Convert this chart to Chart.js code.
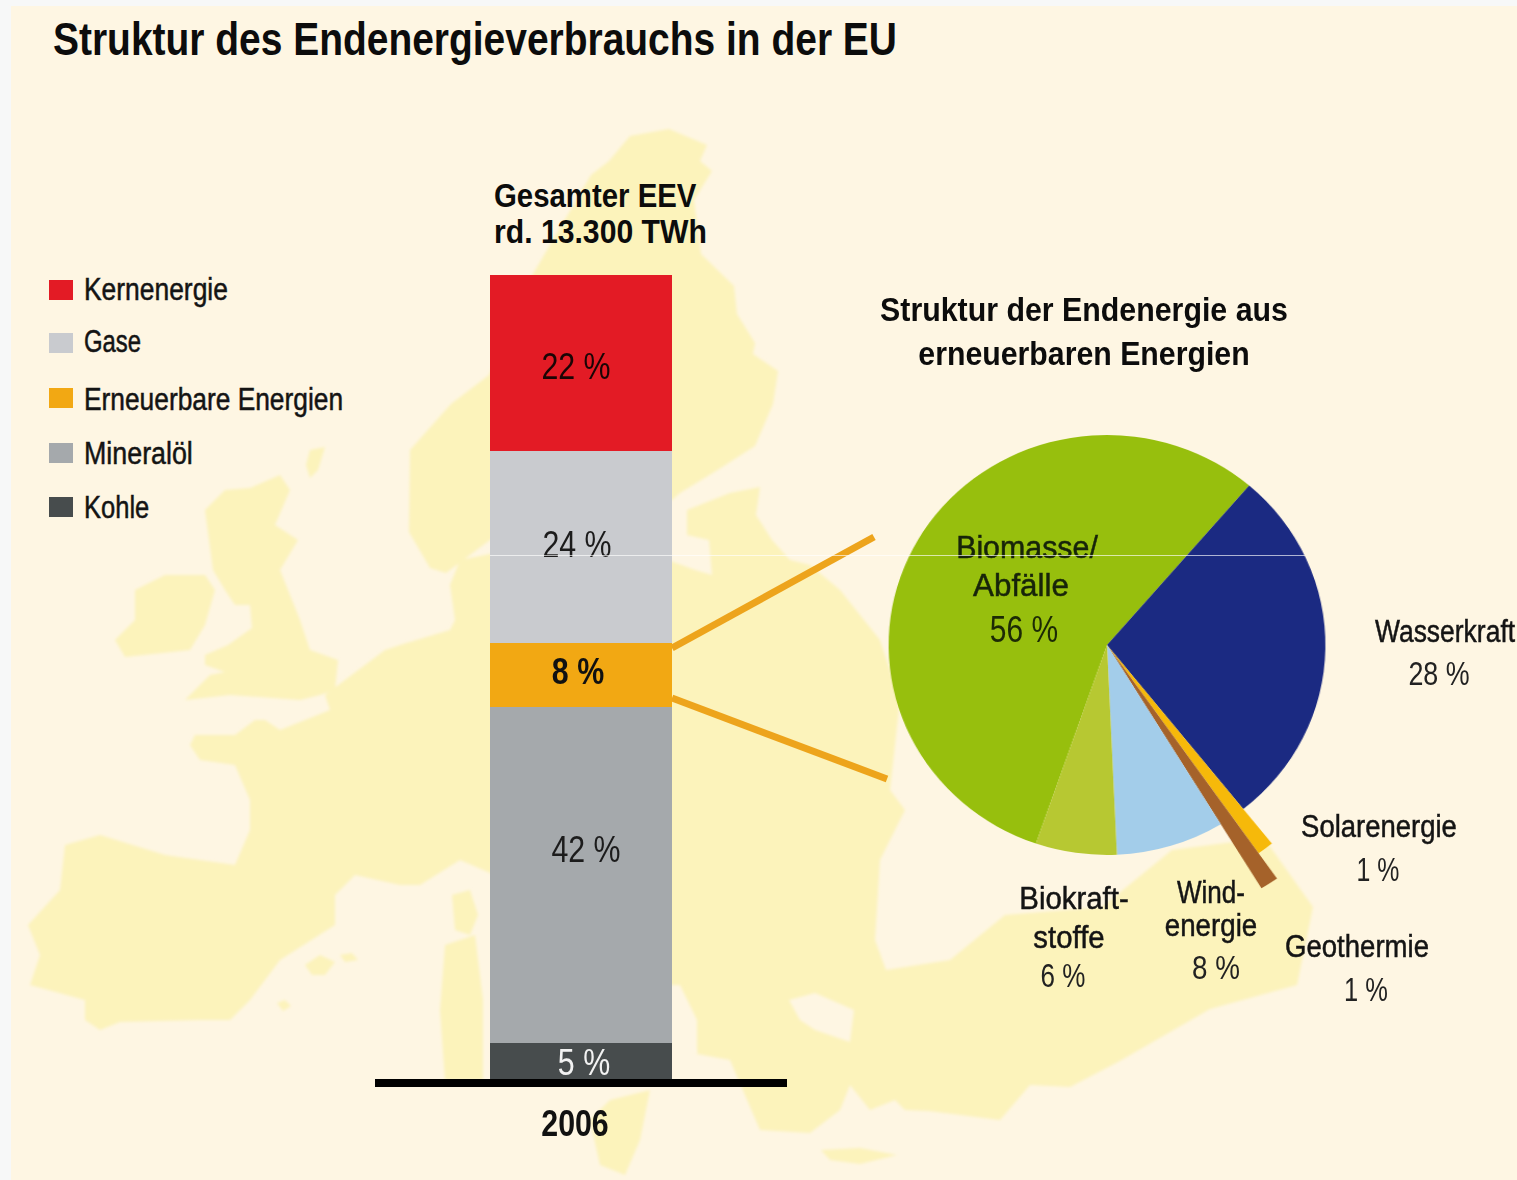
<!DOCTYPE html>
<html lang="de"><head><meta charset="utf-8">
<script src="https://cdn.jsdelivr.net/npm/chart.js@4"></script>
<style>
html,body{margin:0;padding:0;background:#f7f8f8;overflow:hidden}
#stage{position:relative;width:1517px;height:1180px;overflow:hidden;font-family:"Liberation Sans",sans-serif;color:#111}
#paper{position:absolute;left:11px;top:6px;right:0;bottom:0;background:#fef6e3}
svg{position:absolute;left:0;top:0}
canvas{position:absolute;display:block}
.t{position:absolute;white-space:nowrap;line-height:1}
</style></head><body>
<div id="stage">
<div id="paper"></div>
<svg width="1517" height="1180" viewBox="0 0 1517 1180">
<defs><filter id="b" x="-5%" y="-5%" width="110%" height="110%"><feGaussianBlur stdDeviation="1.4"/></filter></defs>
<g fill="#fcf3bb" filter="url(#b)">
<polygon points="630,136 669,129 707,145 700,161 712,171 694,200 701,254 734,286 737,314 755,343 753,354 778,371 773,404 755,446 716,471 680,493 672,500 490,540 446,573 430,568 409,532 410,450 451,404 489,375 530,279 591,175 609,161"/>
<polygon points="135,590 165,575 205,575 215,590 205,625 190,650 125,657 115,640 135,620"/>
<polygon points="205,510 225,490 250,488 280,475 290,490 275,525 298,540 280,570 300,620 310,650 338,660 335,690 320,695 300,700 230,695 185,700 210,675 225,672 205,665 205,655 228,645 252,628 250,605 235,605 225,590 213,570"/>
<polygon points="65,845 100,835 165,855 235,865 250,830 250,800 235,765 200,760 190,745 195,735 235,735 255,720 265,720 280,730 330,710 325,695 385,650 400,645 450,630 455,620 450,585 460,560 495,553 495,875 460,860 420,885 400,885 355,875 335,895 335,925 280,960 250,1000 230,1020 200,1020 120,1022 100,1030 85,1020 85,1000 30,985 40,955 28,925 60,890"/>
<polygon points="452,895 470,890 478,915 470,935 455,930"/>
<polygon points="445,945 475,935 483,1000 483,1080 445,1080 440,1010"/>
<polygon points="305,965 320,955 335,962 325,975 312,975"/>
<polygon points="340,955 352,953 358,960 345,962"/>
<polygon points="277,1003 285,1000 291,1006 283,1011"/>
<polygon points="610,1100 650,1090 640,1140 625,1175 600,1165 590,1120"/>
<polygon points="310,450 325,447 318,470 310,478 306,465"/>
<polygon points="668,560 695,570 712,575 709,540 687,535 687,510 730,493 760,487 756,515 772,540 790,560 810,565 840,590 880,640 900,700 890,790 905,810 880,860 875,940 886,970 950,960 1005,915 1102,907 1172,850 1264,838 1313,907 1297,985 1210,1009 1118,1062 1070,1087 1030,1085 1000,1120 929,1111 905,1110 895,1100 870,1110 850,1085 840,1110 810,1133 760,1130 730,1060 697,1054 668,1000"/>
<polygon points="821,1150 860,1148 897,1155 860,1164 830,1160"/>
</g>
<g fill="#fef6e3" filter="url(#b)">
<polygon points="789,1000 815,993 854,1010 850,1042 815,1030 800,1020"/>
<polygon points="668,985 680,985 697,1020 697,1054 668,1054"/>
</g>
<g stroke="#eda41c" stroke-width="7" fill="none">
<line x1="672" y1="648" x2="874" y2="537"/>
<line x1="672" y1="698" x2="887" y2="779"/>
</g>
</svg>
<canvas id="bar" style="left:375px;top:275px;width:412px;height:880px"></canvas>
<canvas id="pie" style="left:757px;top:295px;width:700px;height:700px;transform:scaleX(1.04);transform-origin:50% 50%"></canvas>
<div id="texts"></div>
</div>
<script>
// ---- data ----
const barYear = ["2006"];
const barCategories = ["Kohle","Mineralöl","Erneuerbare Energien","Gase","Kernenergie"];
const barValues = [5,42,8,24,22];
const barColors = ["#474c4d","#a5a9ac","#f2a813","#c9cbcf","#e31b25"];
const barLabelColors = ["#f2f2f2","#1c1c1c","#111111","#1c1c1c","#1a0505"];
const pieCategories = ["Biomasse/ Abfälle","Wasserkraft","Solarenergie","Geothermie","Windenergie","Biokraftstoffe"];
const pieValues = [56,28,1,1,8,6];
const pieColors = ["#97bf0d","#1b2a82","#f6b90a","#a5622a","#a3cdea","#b7c832"];
const titleText = "Struktur des Endenergieverbrauchs in der EU";
const barHeading = ["Gesamter EEV","rd. 13.300 TWh"];
const pieHeading = ["Struktur der Endenergie aus","erneuerbaren Energien"];
const legendOrder = [4,3,2,1,0];

// ---- layout of text (separate from the data) ----
const FONT = '"Liberation Sans",sans-serif';
const legendY = [289,341,399,453,507];
const legendWidth = [144,57,259,109,65];
const swatchTop = [280,333,388,443,497];
const barLabelShift = [[3,2],[5,-23],[-3,-1],[-4,0],[-5,6]];
const barTextSqueeze = 0.82;
const stretchSlices = {2:1.21,3:1.357};
const pieLabelSpots = [
 {i:0,lines:[["Biomasse/",1027,547,142],["Abfälle",1021,585,96]],pct:[1024,629,37,68,"#1c2a05"]},
 {i:1,lines:[["Wasserkraft",1445,631,140]],pct:[1439,673,33,61,"#222"]},
 {i:2,lines:[["Solarenergie",1379,826,156]],pct:[1378,869,33,43,"#222"]},
 {i:3,lines:[["Geothermie",1357,946,144]],pct:[1366,989,33,44,"#222"]},
 {i:4,lines:[["Wind-",1211,892,68],["energie",1211,925,92]],pct:[1216,967,33,48,"#222"]},
 {i:5,lines:[["Biokraft-",1074,898,109],["stoffe",1069,937,71]],pct:[1063,975,33,45,"#222"]}
];

const host = document.getElementById('texts');
function put(text,x,y,size,weight,color,left,width,stroke){
  const d=document.createElement('div');
  d.className='t';
  d.textContent=text;
  d.style.left=x+'px';d.style.top=y+'px';d.style.fontSize=size+'px';
  d.style.fontWeight=weight;d.style.color=color||'#111';
  if(stroke) d.style.webkitTextStroke=stroke+'px '+(color||'#111');
  host.appendChild(d);
  const k=width/d.offsetWidth;
  d.style.transformOrigin=left?'0 50%':'50% 50%';
  d.style.transform=(left?'translate(0,-50%)':'translate(-50%,-50%)')+' scaleX('+k+')';
}
put(titleText,53,39,46,700,'#0c0c0c',true,844);
put(barHeading[0],494,195,33,700,'#0c0c0c',true,202);
put(barHeading[1],494,231,33,700,'#0c0c0c',true,213);
put(pieHeading[0],1084,309,33,700,'#0c0c0c',false,408);
put(pieHeading[1],1084,353,33,700,'#0c0c0c',false,331);
legendOrder.forEach((k,n)=>{
  const s=document.createElement('div');
  s.style.cssText='position:absolute;left:49px;width:24px;height:20px';
  s.style.top=swatchTop[n]+'px';s.style.background=barColors[k];
  host.appendChild(s);
  put(barCategories[k],84,legendY[n],31,400,'#141414',true,legendWidth[n],0.5);
});
pieLabelSpots.forEach(s=>{
  s.lines.forEach(l=>put(l[0],l[1],l[2],31,400,s.i===0?'#17240a':'#141414',false,l[3],0.5));
  put(pieValues[s.i]+' %',s.pct[0],s.pct[1],s.pct[2],400,s.pct[4],false,s.pct[3]);
});
const seam=document.createElement('div');
seam.style.cssText='position:absolute;left:490px;top:555px;width:815px;height:1px;background:rgba(255,255,255,.65)';
host.appendChild(seam);

// ---- bar chart ----
function squeezedText(ctx,text,x,y){
  ctx.save();ctx.translate(x,y);ctx.scale(barTextSqueeze,1);ctx.fillText(text,0,0);ctx.restore();
}
const barLabels = {
  id:'barLabels',
  afterDraw(c){
    const ctx=c.ctx;ctx.save();ctx.textAlign='center';ctx.textBaseline='middle';
    c.data.datasets.forEach((ds,i)=>{
      const el=c.getDatasetMeta(i).data[0];
      const cy=(el.y+el.base)/2;
      ctx.font=(i===2?'bold ':'')+'37px '+FONT;
      ctx.fillStyle=barLabelColors[i];
      squeezedText(ctx,ds.data[0]+' %',el.x+barLabelShift[i][0],cy+barLabelShift[i][1]);
    });
    ctx.font='bold 37px '+FONT;ctx.fillStyle='#111';
    squeezedText(ctx,c.data.labels[0],c.scales.x.getPixelForTick(0)-6,c.chartArea.bottom+43);
    ctx.restore();
  }
};
new Chart(document.getElementById('bar'),{
  type:'bar',
  data:{labels:barYear,datasets:barCategories.map((n,i)=>({label:n,data:[barValues[i]],backgroundColor:barColors[i],borderWidth:0,stack:'s'}))},
  plugins:[barLabels],
  options:{
    responsive:false,animation:false,
    barPercentage:182/412,categoryPercentage:1,
    layout:{padding:0},
    plugins:{legend:{display:false},tooltip:{enabled:false},title:{display:false}},
    scales:{
      y:{display:false,stacked:true,min:0,max:101},
      x:{stacked:true,
         afterFit(s){s.height=72;},
         grid:{display:false,drawTicks:false},
         border:{display:true,color:'#000',width:8,z:1},
         ticks:{display:false}}
    }
  }
});

// ---- pie chart ----
const stretch = {
  id:'stretch',
  afterDatasetsUpdate(c){
    const arcs=c.getDatasetMeta(0).data;
    Object.keys(stretchSlices).forEach(k=>{arcs[k].outerRadius=arcs[k].outerRadius*stretchSlices[k];});
  }
};
new Chart(document.getElementById('pie'),{
  type:'pie',
  data:{labels:pieCategories,datasets:[{data:pieValues,backgroundColor:pieColors,borderWidth:0,radius:210}]},
  plugins:[stretch],
  options:{
    responsive:false,animation:false,rotation:-161,
    layout:{padding:0},
    plugins:{legend:{display:false},tooltip:{enabled:false},title:{display:false}}
  }
});
</script>
</body></html>
